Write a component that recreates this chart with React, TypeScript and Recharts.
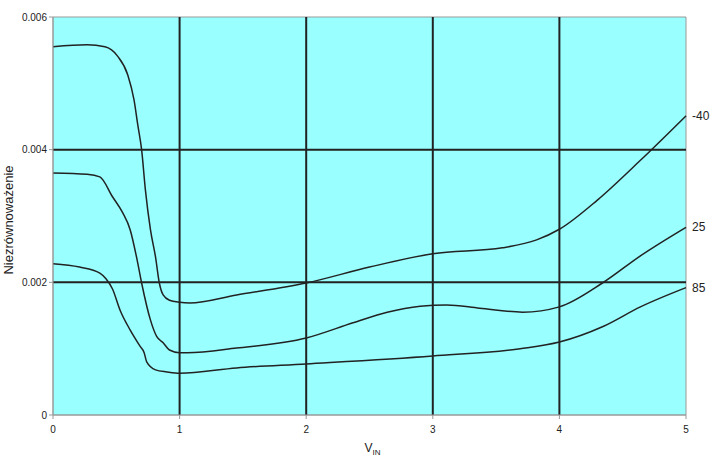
import React from "react";
import {
  LineChart,
  Line,
  XAxis,
  YAxis,
  ReferenceArea,
  ReferenceLine,
} from "recharts";

// V_IN values and imbalance for each temperature curve
const xM40 = [0, 0.27, 0.41, 0.51, 0.59, 0.64, 0.67, 0.7, 0.73, 0.77, 0.81, 0.84, 0.87, 0.92, 1.0, 1.08, 1.45, 2.0, 2.5, 3.0, 3.55, 3.82, 4.0, 4.3, 4.64, 5.0];
const yM40 = [0.00555, 0.00558, 0.00555, 0.00541, 0.00513, 0.00475, 0.00437, 0.004, 0.00339, 0.00279, 0.00238, 0.00199, 0.00181, 0.00173, 0.0017, 0.00169, 0.00181, 0.00199, 0.00223, 0.00243, 0.00252, 0.00264, 0.0028, 0.00324, 0.00384, 0.00451];

const x25 = [0, 0.27, 0.37, 0.47, 0.55, 0.61, 0.66, 0.7, 0.77, 0.82, 0.87, 0.92, 1.0, 1.06, 1.45, 2.0, 2.37, 2.64, 2.9, 3.11, 3.37, 3.71, 4.0, 4.34, 4.64, 5.0];
const y25 = [0.00365, 0.00363, 0.00359, 0.00329, 0.00305, 0.00279, 0.00238, 0.00199, 0.00143, 0.00118, 0.00109, 0.00098, 0.00094, 0.00094, 0.00101, 0.00116, 0.00139, 0.00155, 0.00164, 0.00166, 0.00161, 0.00155, 0.00163, 0.00199, 0.0024, 0.00283];

const x85 = [0, 0.21, 0.37, 0.42, 0.47, 0.53, 0.61, 0.69, 0.72, 0.74, 0.81, 0.9, 1.0, 1.45, 2.0, 3.0, 3.69, 4.0, 4.34, 4.64, 5.0];
const y85 = [0.00228, 0.00223, 0.00214, 0.00205, 0.0019, 0.00158, 0.00128, 0.00103, 0.00094, 0.0008, 0.00068, 0.00065, 0.00063, 0.00071, 0.00077, 0.00089, 0.001, 0.0011, 0.00133, 0.00163, 0.00192];

const seriesNames = ["-40", "25", "85"];
const xTicks = [0, 1, 2, 3, 4, 5];
const yTicks = [0, 0.002, 0.004, 0.006];
const xGrid = [1, 2, 3, 4];
const yGrid = [0.002, 0.004];
const yTitle = "Niezrównoważenie";

const toData = (xs: number[], ys: number[]) => xs.map((x, i) => ({ x, y: ys[i] }));
const series = [
  { name: seriesNames[0], data: toData(xM40, yM40) },
  { name: seriesNames[1], data: toData(x25, y25) },
  { name: seriesNames[2], data: toData(x85, y85) },
];

const font = "Liberation Sans, Arial, sans-serif";

const makeEndLabel = (name: string, n: number) => (props: any) => {
  if (props.index !== n - 1) return null;
  return (
    <text x={props.x + 6} y={props.y} dy={4} fontSize={12} fontFamily={font} fill="#222">
      {name}
    </text>
  );
};

const XLabel = (props: any) => {
  const vb = props.viewBox || {};
  const cx = vb.x + vb.width / 2;
  return (
    <text x={cx + 3} y={452} fontSize={12} fontFamily={font} fill="#222" textAnchor="middle">
      V<tspan fontSize={8} dy={3}>IN</tspan>
    </text>
  );
};

const YLabel = (props: any) => {
  const vb = props.viewBox || {};
  const cy = vb.y + vb.height / 2 + 4;
  return (
    <text
      x={13}
      y={cy}
      transform={`rotate(-90, 13, ${cy})`}
      fontSize={13}
      fontFamily={font}
      fill="#222"
      textAnchor="middle"
    >
      {yTitle}
    </text>
  );
};

export default function App() {
  return (
    <div style={{ position: "absolute", left: 0, top: 0, background: "#fff" }}>
      <LineChart width={717} height={464} margin={{ top: 17, right: 31, bottom: 0, left: 0 }}>
        <XAxis
          dataKey="x"
          type="number"
          domain={[0, 5]}
          ticks={xTicks}
          allowDuplicatedCategory={false}
          height={49}
          stroke="#999"
          tickSize={4}
          tickMargin={7}
          tick={{ fontSize: 10, fontFamily: font, fill: "#222" }}
          label={<XLabel />}
        />
        <YAxis
          type="number"
          domain={[0, 0.006]}
          ticks={yTicks}
          width={53}
          stroke="#999"
          tickSize={4}
          tickMargin={2}
          tick={{ fontSize: 10, fontFamily: font, fill: "#222" }}
          tickFormatter={(v: number) => (v === 0 ? "0" : v.toFixed(3))}
          label={<YLabel />}
        />
        <ReferenceArea x1={0} x2={5} y1={0} y2={0.006} fill="#99FFFF" fillOpacity={1} stroke="#999" strokeWidth={1} />
        {xGrid.map((v) => (
          <ReferenceLine key={"x" + v} x={v} stroke="#222" strokeWidth={2} />
        ))}
        {yGrid.map((v) => (
          <ReferenceLine key={"y" + v} y={v} stroke="#222" strokeWidth={2} />
        ))}
        {series.map((s) => (
          <Line
            key={s.name}
            data={s.data}
            dataKey="y"
            type="monotone"
            stroke="#222"
            strokeWidth={1.5}
            dot={false}
            isAnimationActive={false}
            label={makeEndLabel(s.name, s.data.length)}
          />
        ))}
      </LineChart>
    </div>
  );
}
